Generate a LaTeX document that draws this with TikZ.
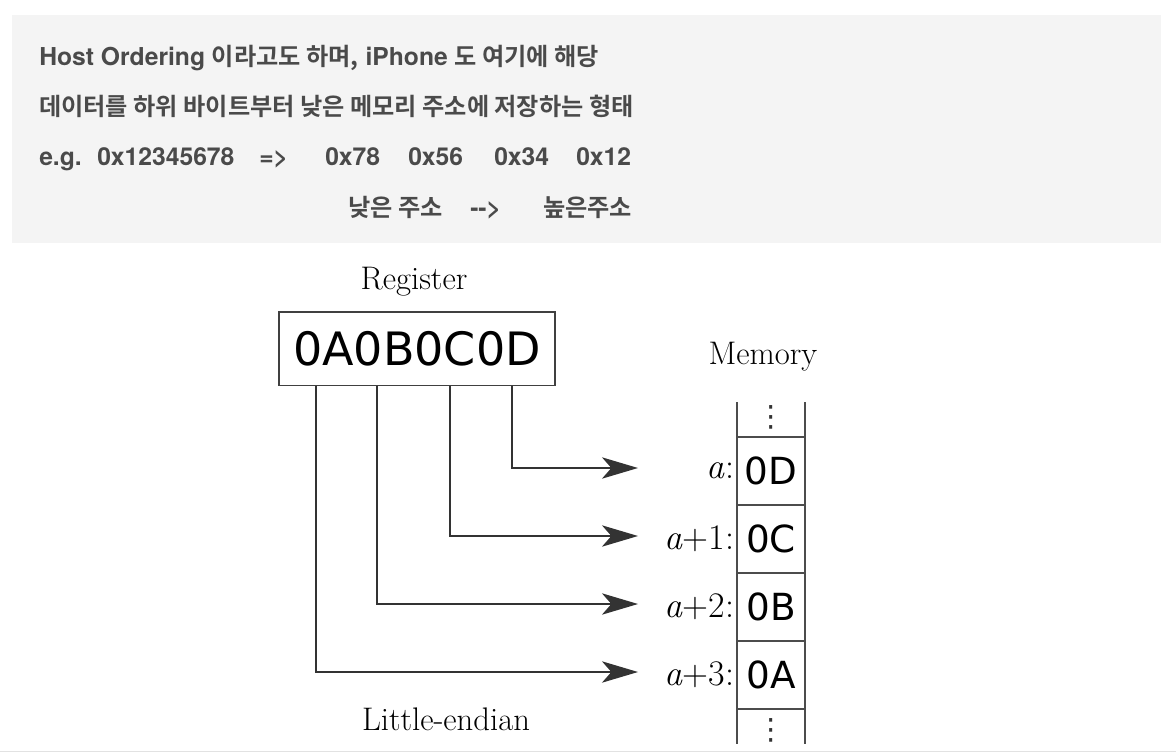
\documentclass[tikz,border=0pt]{standalone}
\usepackage{fontspec}
\usepackage{tikz}
\usetikzlibrary{arrows.meta,calc,positioning}
\newfontfamily\herosfont{TeX Gyre Heros}
\newfontfamily\krfont{Noto Sans CJK KR}[Scale=0.98,BoldFont={Noto Sans CJK KR Bold}]
\newfontfamily\dvsans{DejaVu Sans}
\newcommand{\kr}[1]{{\krfont\bfseries #1}}
\definecolor{boxgray}{HTML}{F4F4F4}
\definecolor{txtgray}{HTML}{4A4A4A}
\definecolor{edgegray}{HTML}{E2E2E2}

\begin{document}
\begin{tikzpicture}[x=0.75pt,y=-0.75pt,
  hdr/.style={anchor=base west,inner sep=0pt,text=txtgray,font=\herosfont\bfseries\fontsize{18.5}{22}\selectfont},
  lbl/.style={inner sep=0pt,font=\fontsize{24.5}{28}\selectfont},
  cell/.style={draw=black!70,line width=0.9pt,outer sep=0pt,inner sep=0pt,minimum width=51pt,minimum height=51pt,font=\dvsans\fontsize{28}{30}\selectfont},
  addr/.style={inner sep=0pt,font=\fontsize{27}{30}\selectfont},
  dots/.style={inner sep=0pt,text=black!80,font=\dvsans\fontsize{22}{22}\selectfont},
  rail/.style={draw=black!70,line width=0.9pt},
  conn/.style={draw=black!80,line width=1.3pt,arrows={-Stealth[length=27pt,width=16pt,inset=7pt]}}]
\useasboundingbox (0,0) rectangle (1176,752);
\fill[boxgray] (12,15) rectangle (1161,243);
\draw[edgegray,line width=0.75pt] (0,751) -- (1176,751);

% header text
\node[hdr] (h1) at (39,66) {Host Ordering \kr{이라고도 하며,} iPhone \kr{도 여기에 해당}};
\node[hdr] (h2) at (39,116) {\kr{데이터를 하위 바이트부터 낮은 메모리 주소에 저장하는 형태}};
\foreach \x/\t in {39/e.g., 97/0x12345678, 259/{=>}, 325/0x78, 408/0x56, 494/0x34, 576/0x12}
  \node[hdr] (ex\x) at (\x,166) {\t};
\node[hdr] (lo) at (348,216) {\kr{낮은 주소}};
\node[hdr] (dir) at (470,216) {-{}-{}>};
\node[hdr] (hi) at (543,216) {\kr{높은주소}};

% register
\node[draw=black!75,line width=1pt,minimum width=207pt,minimum height=55pt,font=\dvsans\fontsize{34.5}{37}\selectfont] (reg) at (417,348.5) {0A0B0C0D};
\node[lbl] (reglbl) at (414,282) {Register};

% memory
\node[lbl] (memlbl) at (763,357) {Memory};
\node[cell] (cell0) at (771,471) {0D};
\foreach \i/\j/\v in {1/0/0C,2/1/0B,3/2/0A}
  \node[cell,below=0pt of cell\j] (cell\i) {\v};
\draw[rail] ($(cell0.north west)+(0,-35)$) -- ($(cell3.south west)+(0,35)$);
\draw[rail] ($(cell0.north east)+(0,-35)$) -- ($(cell3.south east)+(0,35)$);
\node[dots] (dtop) at ($(cell0.north)+(0,-20)$) {⋮};
\node[dots] (dbot) at ($(cell3.south)+(0,21)$) {⋮};
\foreach \i/\s in {0/{},1/+1,2/+2,3/+3}
  \node[addr,left=2pt of cell\i] (addr\i) {\textit{a}\s:};

% byte connectors
\foreach \dx/\i in {234/0,172/1,99/2,38/3}{
  \coordinate (t\i) at ($(cell\i.west)+(-99,-3)$);
  \draw[conn] ($(reg.south west)+(\dx,0)$) |- (t\i);
}
\node[lbl] (endian) at (446,719) {Little-endian};
\end{tikzpicture}
\end{document}
